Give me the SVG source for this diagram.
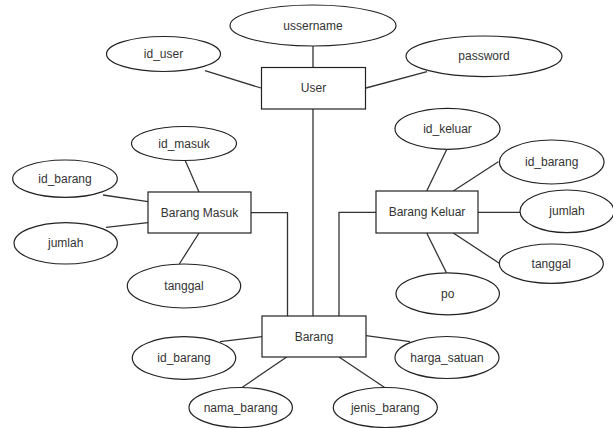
<svg xmlns="http://www.w3.org/2000/svg" width="613" height="428" viewBox="0 0 613 428">
<style>
.e{fill:#fff;stroke:#222;stroke-width:1.2}
.r{fill:#fff;stroke:#222;stroke-width:1.2}
.c{fill:none;stroke:#333;stroke-width:1.3}
text{font-family:"Liberation Sans",Arial,sans-serif;font-size:12px;fill:#333;text-anchor:middle;dominant-baseline:central}
</style>
<rect width="613" height="428" fill="#fff"/>
<g id="connectors">
<line class="c" x1="313" y1="46" x2="313" y2="67"/>
<line class="c" x1="205" y1="70.7" x2="261" y2="88"/>
<line class="c" x1="366" y1="88" x2="427" y2="71.7"/>
<line class="c" x1="313" y1="109" x2="313" y2="316"/>
<line class="c" x1="185" y1="160" x2="199" y2="192"/>
<line class="c" x1="103" y1="195" x2="148" y2="201.7"/>
<line class="c" x1="106" y1="227.3" x2="148" y2="222.7"/>
<line class="c" x1="179.3" y1="264" x2="199" y2="233"/>
<polyline class="c" points="251,212.7 287.5,212.7 287.5,316"/>
<line class="c" x1="446.7" y1="149.5" x2="426.7" y2="191"/>
<line class="c" x1="498.3" y1="161.7" x2="453.3" y2="191"/>
<line class="c" x1="478" y1="212.3" x2="520" y2="212.3"/>
<line class="c" x1="453.3" y1="233" x2="499.3" y2="263.3"/>
<line class="c" x1="426.7" y1="233" x2="446.7" y2="273.3"/>
<polyline class="c" points="376,212.3 339,212.3 339,316"/>
<line class="c" x1="220" y1="341.7" x2="262" y2="336.7"/>
<line class="c" x1="366" y1="335.7" x2="410" y2="341.7"/>
<line class="c" x1="241.7" y1="387.7" x2="286.7" y2="357"/>
<line class="c" x1="339" y1="357" x2="385" y2="387.7"/>
</g>
<g id="ussername"><ellipse class="e" cx="313" cy="25.5" rx="83" ry="20.5"/><text x="313" y="25.5">ussername</text></g>
<g id="id_user"><ellipse class="e" cx="163.5" cy="54" rx="57" ry="17.5"/><text x="163.5" y="54">id_user</text></g>
<g id="password"><ellipse class="e" cx="484" cy="56.3" rx="78" ry="20.3"/><text x="484" y="56.3">password</text></g>
<g id="user"><rect class="r" x="261.5" y="67.5" width="104" height="41.5"/><text x="313.5" y="88.3">User</text></g>
<g id="id_masuk"><ellipse class="e" cx="184" cy="143.5" rx="52.5" ry="17"/><text x="184" y="143.5">id_masuk</text></g>
<g id="id_barang_masuk"><ellipse class="e" cx="65" cy="178.7" rx="52.3" ry="18.7"/><text x="65" y="178.7">id_barang</text></g>
<g id="barang_masuk"><rect class="r" x="148" y="192" width="103" height="41"/><text x="199.5" y="212.5">Barang Masuk</text></g>
<g id="jumlah_masuk"><ellipse class="e" cx="65.7" cy="243.3" rx="51.7" ry="20.7"/><text x="65.7" y="243.3">jumlah</text></g>
<g id="tanggal_masuk"><ellipse class="e" cx="184" cy="286" rx="56.7" ry="22"/><text x="184" y="286">tanggal</text></g>
<g id="id_keluar"><ellipse class="e" cx="447.5" cy="128.8" rx="52.5" ry="20.5"/><text x="447.5" y="128.8">id_keluar</text></g>
<g id="id_barang_keluar"><ellipse class="e" cx="551.7" cy="162" rx="52.3" ry="22"/><text x="551.7" y="162">id_barang</text></g>
<g id="barang_keluar"><rect class="r" x="376" y="191" width="102" height="42"/><text x="427" y="212">Barang Keluar</text></g>
<g id="jumlah_keluar"><ellipse class="e" cx="567" cy="211.3" rx="47" ry="21.3"/><text x="567" y="211.3">jumlah</text></g>
<g id="tanggal_keluar"><ellipse class="e" cx="551.3" cy="263.7" rx="52" ry="19.7"/><text x="551.3" y="263.7">tanggal</text></g>
<g id="po"><ellipse class="e" cx="447.7" cy="293.8" rx="51.7" ry="21"/><text x="447.7" y="293.8">po</text></g>
<g id="barang"><rect class="r" x="262" y="316" width="104" height="41"/><text x="314" y="336.5">Barang</text></g>
<g id="id_barang"><ellipse class="e" cx="184" cy="358" rx="51.7" ry="21.3"/><text x="184" y="358">id_barang</text></g>
<g id="harga_satuan"><ellipse class="e" cx="447" cy="357.5" rx="52" ry="21"/><text x="447" y="357.5">harga_satuan</text></g>
<g id="nama_barang"><ellipse class="e" cx="240.7" cy="407.5" rx="51.7" ry="20"/><text x="240.7" y="407.5">nama_barang</text></g>
<g id="jenis_barang"><ellipse class="e" cx="385.3" cy="407.5" rx="52" ry="20"/><text x="385.3" y="407.5">jenis_barang</text></g>
</svg>
